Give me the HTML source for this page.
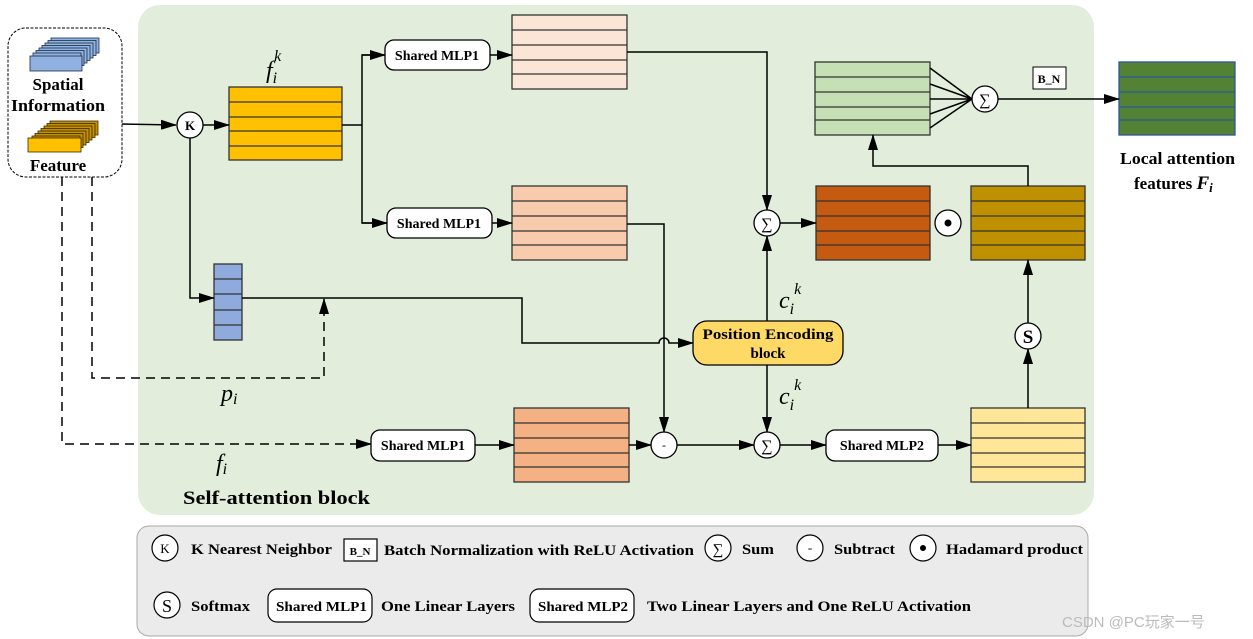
<!DOCTYPE html>
<html><head><meta charset="utf-8"><style>
html,body{margin:0;padding:0;background:#fff;}
svg{display:block;font-family:"Liberation Serif",serif;}
.b{font-weight:bold;}
</style></head><body>
<svg width="1253" height="639" viewBox="0 0 1253 639" xmlns="http://www.w3.org/2000/svg">
<defs>
<marker id="aL" markerWidth="16" markerHeight="10" refX="15" refY="5" orient="auto" markerUnits="userSpaceOnUse"><path d="M0,0 L16,5 L0,10 z" fill="#000"/></marker>
</defs>
<rect x="138" y="5" width="956" height="510" rx="22" fill="#e2eedb"/>
<rect x="137" y="526" width="951" height="110" rx="12" fill="#ebebeb" stroke="#aaa"/>

<rect x="8" y="28" width="114" height="149" rx="18" fill="#fff" stroke="#000" stroke-dasharray="3,1.5"/>
<g stroke="#1f2d40" stroke-width="0.8" fill="#8eb4e3">
<rect x="51" y="38" width="48" height="15"/><rect x="48" y="40.5" width="48" height="15"/><rect x="45" y="43" width="48" height="15"/><rect x="42" y="45.5" width="48" height="15"/><rect x="39" y="48" width="48" height="15"/><rect x="36" y="50.5" width="48" height="15"/><rect x="33" y="53" width="48" height="15"/>
<rect x="30" y="56" width="52" height="15" fill="#8fb0e0"/>
</g>
<g stroke="#3a2a00" stroke-width="0.8" fill="#c49000">
<rect x="50" y="121" width="48" height="14"/><rect x="47" y="123.5" width="48" height="14"/><rect x="44" y="126" width="48" height="14"/><rect x="41" y="128.5" width="48" height="14"/><rect x="38" y="131" width="48" height="14"/><rect x="35" y="133.5" width="48" height="14"/><rect x="32" y="136" width="48" height="14"/>
<rect x="28" y="138" width="53" height="14" fill="#ffc000"/>
</g>
<text class="b" x="58" y="90" font-size="17" text-anchor="middle">Spatial</text>
<text class="b" x="58" y="111" font-size="17" text-anchor="middle" textLength="94" lengthAdjust="spacingAndGlyphs">Information</text>
<text class="b" x="58" y="171" font-size="17" text-anchor="middle">Feature</text>

<g stroke="#333" stroke-width="1.3">
<g fill="#ffc000"><rect x="229" y="87" width="113" height="73"/><path d="M229 102H342M229 117H342M229 131H342M229 146H342"/></g>
<g fill="#fbe5d6"><rect x="512" y="15" width="115" height="74"/><path d="M512 30H627M512 45H627M512 60H627M512 74H627"/></g>
<g fill="#f8cbad"><rect x="512" y="186" width="115" height="74"/><path d="M512 201H627M512 216H627M512 231H627M512 245H627"/></g>
<g fill="#f4b183"><rect x="514" y="408" width="115" height="74"/><path d="M514 423H629M514 438H629M514 453H629M514 467H629"/></g>
<g fill="#8faadc"><rect x="214" y="264" width="28" height="76"/><path d="M214 279H242M214 294H242M214 310H242M214 325H242"/></g>
<g fill="#ffe699"><rect x="971" y="408" width="114" height="74"/><path d="M971 423H1085M971 438H1085M971 453H1085M971 467H1085"/></g>
<g fill="#bf9000"><rect x="971" y="186" width="114" height="74"/><path d="M971 201H1085M971 216H1085M971 231H1085M971 245H1085"/></g>
<g fill="#c55a11"><rect x="816" y="186" width="114" height="74"/><path d="M816 201H930M816 216H930M816 231H930M816 245H930"/></g>
<g fill="#c5e0b4"><rect x="815" y="62" width="115" height="73"/><path d="M815 77H930M815 92H930M815 107H930M815 120H930"/></g>
</g>
<g fill="#548235" stroke="#2f5597" stroke-width="1.3"><rect x="1119" y="62" width="116" height="73"/><path d="M1119 77H1235M1119 92H1235M1119 107H1235M1119 120H1235"/></g>

<g stroke="#000" stroke-width="1.5" fill="none">
<path d="M122 124L176 125" marker-end="url(#aL)"/>
<path d="M203 125H229" marker-end="url(#aL)"/>
<path d="M342 125H362M385 55H362V223H387"/>
<path d="M362 55H385" marker-end="url(#aL)"/>
<path d="M362 223H387" marker-end="url(#aL)"/>
<path d="M490 55H512" marker-end="url(#aL)"/>
<path d="M492 223H512" marker-end="url(#aL)"/>
<path d="M627 52H767V210" marker-end="url(#aL)"/>
<path d="M627 224H664V432" marker-end="url(#aL)"/>
<path d="M190 138V298H214" marker-end="url(#aL)"/>
<path d="M242 298H522V343H659A5 5 0 0 1 669 343H693" marker-end="url(#aL)"/>
<path d="M92 177V378H324V299" stroke-dasharray="9,6" marker-end="url(#aL)"/>
<path d="M62 177V444H371" stroke-dasharray="9,6" marker-end="url(#aL)"/>
<path d="M475 445H514" marker-end="url(#aL)"/>
<path d="M629 445H651" marker-end="url(#aL)"/>
<path d="M677 445H754" marker-end="url(#aL)"/>
<path d="M780 445H826" marker-end="url(#aL)"/>
<path d="M938 445H971" marker-end="url(#aL)"/>
<path d="M767 321V236" marker-end="url(#aL)"/>
<path d="M767 365V432" marker-end="url(#aL)"/>
<path d="M780 223H816" marker-end="url(#aL)"/>
<path d="M1028 408V349" marker-end="url(#aL)"/>
<path d="M1028 323V260" marker-end="url(#aL)"/>
<path d="M1028 186V166H873V135" marker-end="url(#aL)"/>
<path d="M930 68L972 99M930 84L972 99M930 99H972M930 114L972 99M930 128L972 99"/>
<path d="M998 99H1119" marker-end="url(#aL)"/>
</g>

<g stroke="#000" stroke-width="1.3" fill="#fff">
<circle cx="190" cy="125" r="13"/>
<circle cx="767" cy="223" r="13"/>
<circle cx="664" cy="445" r="13"/>
<circle cx="767" cy="445" r="13"/>
<circle cx="1028" cy="336" r="13"/>
<circle cx="948" cy="223" r="13"/>
<circle cx="985" cy="99" r="13"/>
</g>
<circle cx="948" cy="223" r="3.5" fill="#000"/>
<text class="b" x="190" y="130" font-size="13" text-anchor="middle">K</text>
<text x="767" y="229" font-size="16" text-anchor="middle">∑</text>
<text x="767" y="451" font-size="16" text-anchor="middle">∑</text>
<text x="985" y="105" font-size="16" text-anchor="middle">∑</text>
<text x="664" y="449" font-size="12" text-anchor="middle">-</text>
<text class="b" x="1028" y="343" font-size="19" text-anchor="middle">S</text>

<g stroke="#000" stroke-width="1.3" fill="#fff">
<rect x="385" y="40" width="105" height="30" rx="9"/>
<rect x="387" y="208" width="105" height="30" rx="9"/>
<rect x="371" y="430" width="104" height="31" rx="9"/>
<rect x="826" y="430" width="112" height="31" rx="9"/>
<rect x="693" y="321" width="150" height="44" rx="14" fill="#ffd966"/>
<rect x="1033" y="67" width="33" height="22" stroke-width="1"/>
</g>
<g class="b" font-size="14" text-anchor="middle">
<text x="437" y="60">Shared MLP1</text>
<text x="439" y="228">Shared MLP1</text>
<text x="423" y="450">Shared MLP1</text>
<text x="882" y="450">Shared MLP2</text>
<text x="768" y="339" font-size="15" textLength="131" lengthAdjust="spacingAndGlyphs">Position  Encoding</text>
<text x="768" y="358" font-size="15">block</text>
<text x="1049" y="83" font-size="12">B_N</text>
</g>

<g font-style="italic" font-size="24">
<text x="266" y="78">f<tspan font-size="16" dy="5">i</tspan><tspan font-size="16" dx="-3" dy="-22">k</tspan></text>
<text x="779" y="308">c<tspan font-size="16" dy="6">i</tspan><tspan font-size="16" dy="-20">k</tspan></text>
<text x="779" y="404">c<tspan font-size="16" dy="6">i</tspan><tspan font-size="16" dy="-20">k</tspan></text>
<text x="221" y="401">p<tspan font-size="16" dy="3">i</tspan></text>
<text x="216" y="471">f<tspan font-size="16" dy="3">i</tspan></text>
</g>
<text class="b" x="183" y="504" font-size="19" textLength="187" lengthAdjust="spacingAndGlyphs">Self-attention   block</text>
<text class="b" x="1120" y="164" font-size="17" textLength="115" lengthAdjust="spacingAndGlyphs">Local attention</text>
<text class="b" x="1134" y="189" font-size="17">features  <tspan font-style="italic" font-size="19">F<tspan font-size="13" dy="3">i</tspan></tspan></text>

<g stroke="#000" stroke-width="1.2" fill="#fff">
<circle cx="165" cy="548" r="13"/>
<rect x="344" y="539" width="33" height="22"/>
<circle cx="718" cy="548" r="13"/>
<circle cx="810" cy="548" r="13"/>
<circle cx="923" cy="548" r="13"/>
<circle cx="167" cy="605" r="13"/>
<rect x="268" y="589" width="104" height="33" rx="9"/>
<rect x="530" y="589" width="104" height="33" rx="9"/>
</g>
<circle cx="923" cy="548" r="3" fill="#000"/>
<g font-size="13">
<text x="165" y="553" text-anchor="middle">K</text>
<text x="360" y="555" text-anchor="middle" class="b" font-size="11">B_N</text>
<text x="718" y="554" text-anchor="middle" font-size="15">∑</text>
<text x="810" y="552" text-anchor="middle">-</text>
<text x="167" y="612" text-anchor="middle" font-size="18">S</text>
</g>
<g class="b" font-size="15" lengthAdjust="spacingAndGlyphs">
<text x="191" y="554" textLength="141" lengthAdjust="spacingAndGlyphs">K Nearest Neighbor</text>
<text x="384" y="555" textLength="310" lengthAdjust="spacingAndGlyphs">Batch Normalization with  ReLU Activation</text>
<text x="742" y="554" textLength="32" lengthAdjust="spacingAndGlyphs">Sum</text>
<text x="834" y="554" textLength="61" lengthAdjust="spacingAndGlyphs">Subtract</text>
<text x="946" y="554" textLength="137" lengthAdjust="spacingAndGlyphs">Hadamard product</text>
<text x="191" y="611" textLength="59" lengthAdjust="spacingAndGlyphs">Softmax</text>
<text x="276" y="611" font-size="14" textLength="91" lengthAdjust="spacingAndGlyphs">Shared MLP1</text>
<text x="381" y="611" textLength="134" lengthAdjust="spacingAndGlyphs">One Linear Layers</text>
<text x="538" y="611" font-size="14" textLength="90" lengthAdjust="spacingAndGlyphs">Shared MLP2</text>
<text x="647" y="611" textLength="324" lengthAdjust="spacingAndGlyphs">Two Linear Layers and One ReLU Activation</text>
</g>
<text x="1062" y="627" font-family="Liberation Sans, Noto Sans CJK SC, sans-serif" font-size="15" fill="#bbb">CSDN @PC玩家一号</text>
</svg>
</body></html>
